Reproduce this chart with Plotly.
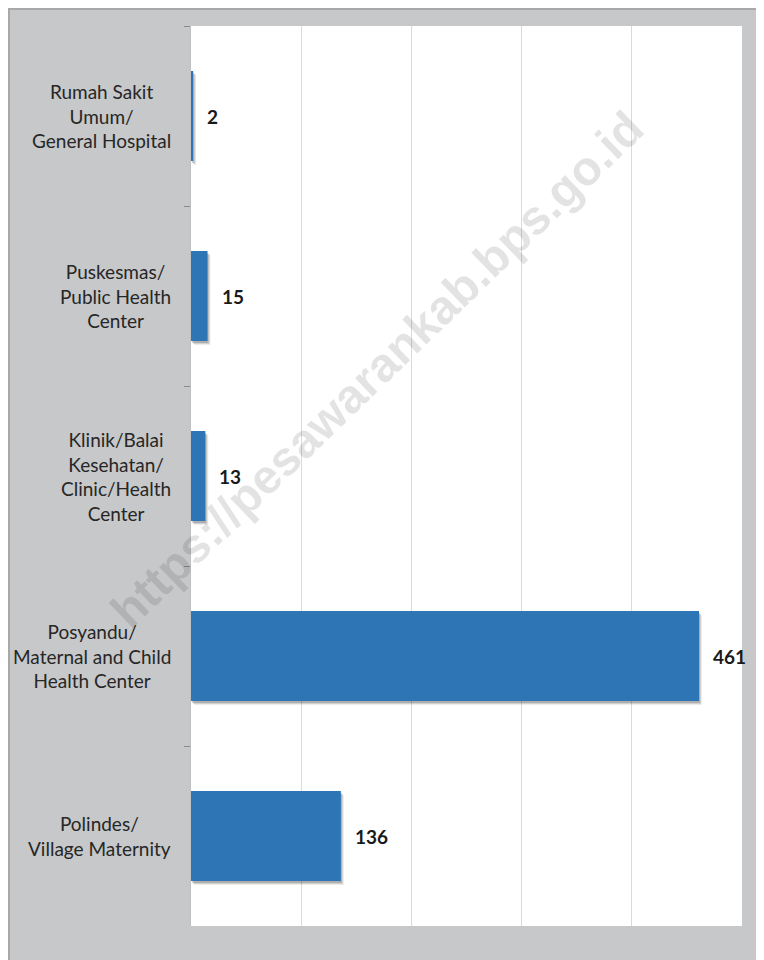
import plotly.graph_objects as go

categories = [
    "Rumah Sakit<br>Umum/<br>General Hospital",
    "Puskesmas/<br>Public Health<br>Center",
    "Klinik/Balai<br>Kesehatan/<br>Clinic/Health<br>Center",
    "Posyandu/<br>Maternal and Child<br>Health Center",
    "Polindes/<br>Village Maternity",
]
values = [2, 15, 13, 461, 136]
x_range = [0, 500]
x_dtick = 100
watermark = "https://pesawarankab.bps.go.id"

BAR = "#2e75b6"
BG = "#c7c8ca"
FONT = "Lato, 'Open Sans', sans-serif"

W, H = 756, 952
L, R, T, B = 183, 22, 18, 34
PW, PH = W - L - R, H - T - B
X_PX = PW / (x_range[1] - x_range[0])   # pixels per unit
CAT_PX = PH / len(categories)           # pixels per category
BW = 0.5

fig = go.Figure()
# soft drop shadow (offset by a few pixels down/right)
for dx, dy, a in [(3, 4, 0.07), (2, 3, 0.12), (1, 2, 0.16)]:
    fig.add_trace(go.Bar(
        y=categories, x=values, orientation="h", base=dx / X_PX,
        marker=dict(color=f"rgba(0,0,0,{a})", line=dict(width=0)),
        width=BW, offset=-BW / 2 + dy / CAT_PX, hoverinfo="skip",
    ))
fig.add_trace(go.Bar(
    y=categories, x=values, orientation="h",
    marker=dict(color=BAR, line=dict(width=0)),
    width=BW, offset=-BW / 2, hoverinfo="skip",
))

annotations = []
for cat in categories:
    annotations.append(dict(
        x=0, xref="paper", y=cat, yref="y", text=cat, showarrow=False,
        xanchor="right", yanchor="middle", align="center", xshift=-18,
        font=dict(family=FONT, size=19, color="#262626"),
    ))
for cat, v in zip(categories, values):
    annotations.append(dict(
        x=v, xref="x", y=cat, yref="y", text=f"<b>{v}</b>", showarrow=False,
        xanchor="left", yanchor="middle", xshift=12,
        font=dict(family=FONT, size=19, color="#1a1a1a"),
    ))
annotations.append(dict(
    x=0.5, y=0.5, xref="paper", yref="paper", text=f"<b>{watermark}</b>",
    showarrow=False, textangle=-44, xshift=-90, yshift=107,
    font=dict(family="Liberation Sans, Arial, sans-serif", size=48, color="rgba(0,0,0,0.11)"),
))

fig.update_layout(
    width=W, height=H,
    margin=dict(l=L, r=R, t=T, b=B),
    paper_bgcolor=BG, plot_bgcolor="white",
    showlegend=False,
    barmode="overlay",
    annotations=annotations,
    xaxis=dict(range=x_range, dtick=x_dtick, showticklabels=False, showgrid=True,
               gridcolor="#dadada", gridwidth=1, zeroline=False, showline=False, fixedrange=True),
    yaxis=dict(autorange="reversed", showticklabels=False, ticks="outside", ticklen=6,
               tickcolor="#8c8c8c", tickson="boundaries", showline=True, linecolor="#bfbfbf",
               linewidth=1, showgrid=False, zeroline=False, fixedrange=True),
    shapes=[
        dict(type="line", xref="paper", yref="paper", x0=-L / PW, x1=(W - L) / PW,
             y0=1 + (T - 1) / PH, y1=1 + (T - 1) / PH, line=dict(color="#a8a8a8", width=2)),
        dict(type="line", xref="paper", yref="paper", x0=(1 - L) / PW, x1=(1 - L) / PW,
             y0=1 + T / PH, y1=-B / PH, line=dict(color="#a8a8a8", width=2)),
    ],
)

fig.write_html("out.html")
